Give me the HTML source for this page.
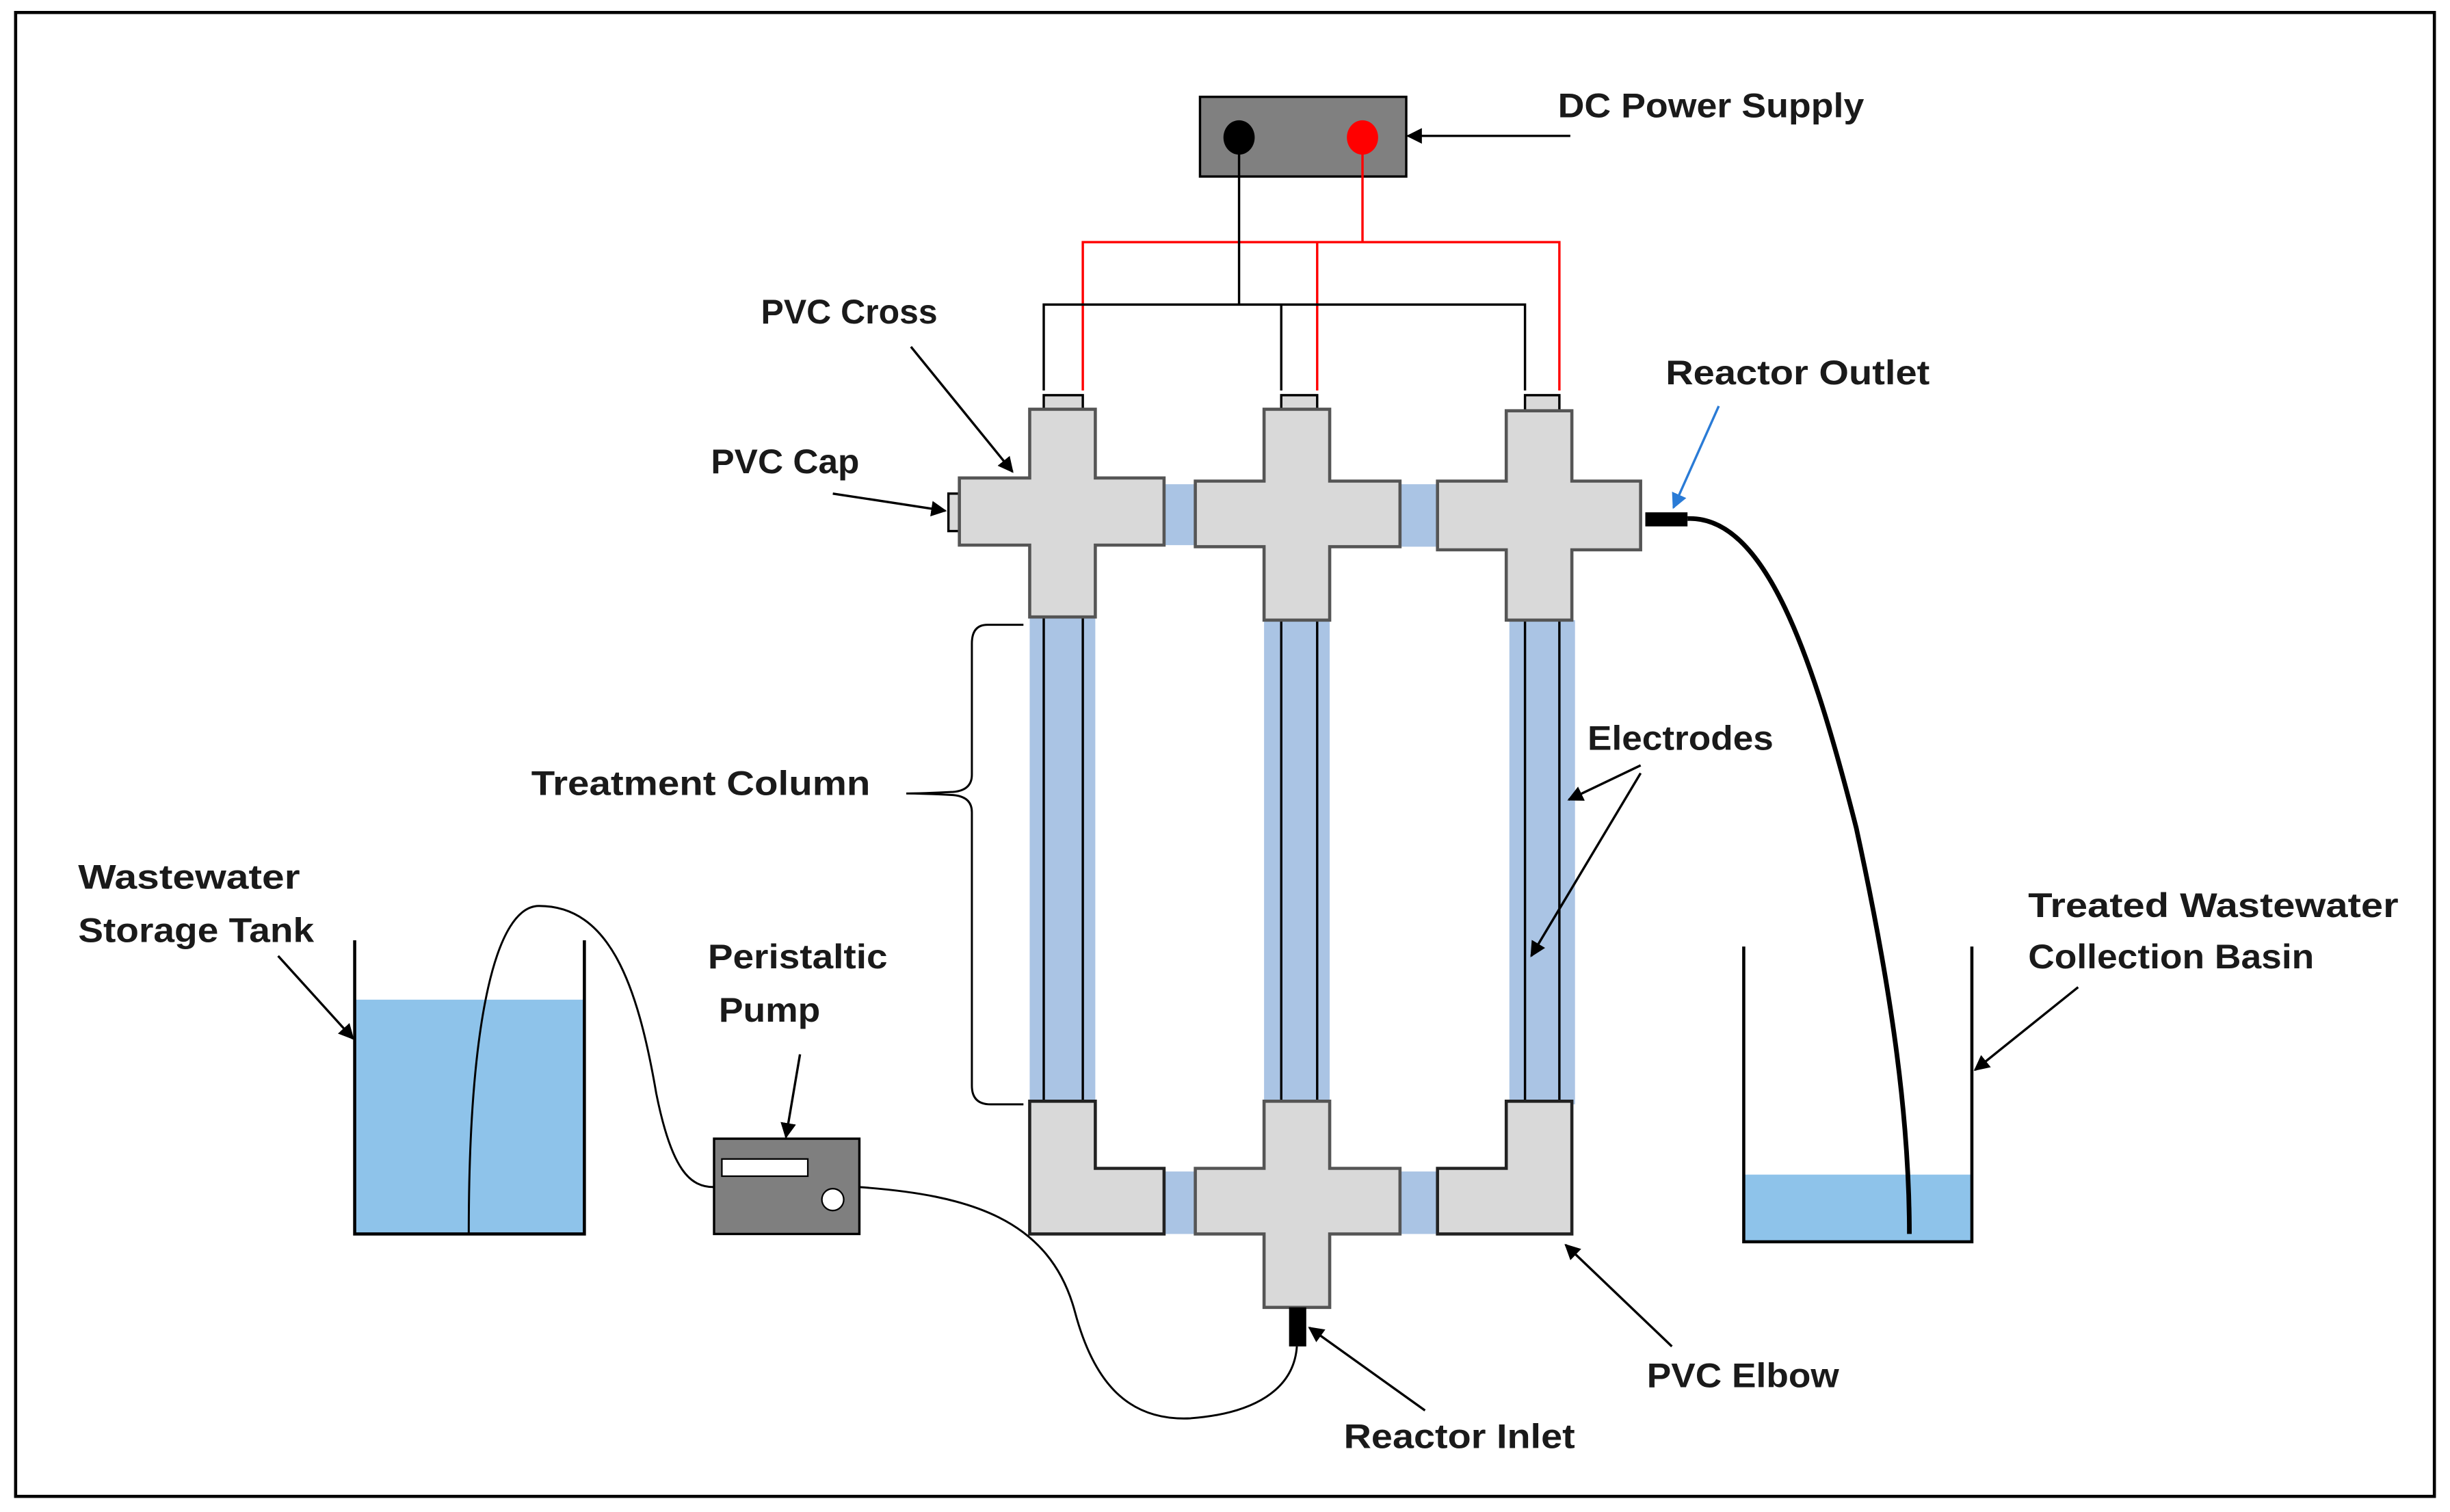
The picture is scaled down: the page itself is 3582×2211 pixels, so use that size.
<!DOCTYPE html>
<html><head><meta charset="utf-8"><style>
html,body{margin:0;padding:0;background:#fff;}
svg{display:block;}
text{font-family:"Liberation Sans",Arial,sans-serif;font-weight:bold;font-size:22px;fill:#1a1a1a;}
</style></head><body>
<svg width="3582" height="2211" viewBox="0 0 1568 968" preserveAspectRatio="none" xmlns="http://www.w3.org/2000/svg">
<defs>
<marker id="ah" markerWidth="10" markerHeight="10" refX="9" refY="5" orient="auto" markerUnits="userSpaceOnUse"><path d="M0,0 L10,5 L0,10 Z" fill="#000"/></marker>
<marker id="ahb" markerWidth="10" markerHeight="10" refX="9" refY="5" orient="auto" markerUnits="userSpaceOnUse"><path d="M0,0 L10,5 L0,10 Z" fill="#2a7bd6"/></marker>
</defs>
<rect x="0" y="0" width="1568" height="968" fill="#fff"/>
<rect x="10" y="8" width="1548" height="950" fill="none" stroke="#000" stroke-width="2"/>

<rect x="768" y="62" width="132" height="51" fill="#808080" stroke="#000" stroke-width="1.5"/>
<ellipse cx="793" cy="88" rx="10" ry="11" fill="#000"/>
<ellipse cx="872" cy="88" rx="10" ry="11" fill="#f00"/>
<line x1="1005" y1="87" x2="901" y2="87" stroke="#000" stroke-width="1.5" marker-end="url(#ah)"/>

<g fill="none" stroke-width="1.5">
<path d="M872,88 V155 M693,250 V155 H998 V250 M843,155 V250" stroke="#f00"/>
<path d="M793,88 V195 M668,250 V195 H976 V250 M820,195 V250" stroke="#000"/>
</g>

<g fill="#aac4e4">
<rect x="659" y="395" width="42" height="312"/>
<rect x="809" y="397" width="42" height="310"/>
<rect x="966" y="397" width="42" height="310"/>
<rect x="745" y="310" width="20" height="39"/>
<rect x="896" y="310" width="24" height="40"/>
<rect x="745" y="750" width="20" height="40"/>
<rect x="896" y="750" width="24" height="40"/>
</g>
<g stroke="#000" stroke-width="1.5">
<line x1="668" y1="395" x2="668" y2="705"/><line x1="693" y1="395" x2="693" y2="705"/>
<line x1="820" y1="397" x2="820" y2="705"/><line x1="843" y1="397" x2="843" y2="705"/>
<line x1="976" y1="397" x2="976" y2="705"/><line x1="998" y1="397" x2="998" y2="705"/>
</g>

<g fill="#d9d9d9" stroke="#000" stroke-width="1.5">
<rect x="668" y="253" width="25" height="10"/>
<rect x="820" y="253" width="23" height="10"/>
<rect x="976" y="253" width="22" height="10"/>
<rect x="607" y="316" width="8" height="24"/>
</g>

<g fill="#d9d9d9" stroke="#555" stroke-width="2">
<path d="M659,262 H701 V306 H745 V349 H701 V395 H659 V349 H614 V306 H659 Z"/>
<path d="M809,262 H851 V308 H896 V350 H851 V397 H809 V350 H765 V308 H809 Z"/>
<path d="M964,263 H1006 V308 H1050 V352 H1006 V397 H964 V352 H920 V308 H964 Z"/>
<path d="M809,705 H851 V748 H896 V790 H851 V837 H809 V790 H765 V748 H809 Z"/>
<path d="M659,705 H701 V748 H745 V790 H659 Z" stroke="#222"/>
<path d="M964,705 H1006 V790 H920 V748 H964 Z" stroke="#222"/>
</g>
<rect x="1053" y="328" width="27" height="9" fill="#000"/>
<rect x="825" y="837" width="11" height="25" fill="#000"/>

<rect x="227" y="640" width="147" height="150" fill="#8ec3ea"/>
<path d="M227,602 V790 H374 V602" fill="none" stroke="#000" stroke-width="2"/>
<rect x="1116" y="752" width="146" height="43" fill="#8ec3ea"/>
<path d="M1116,606 V795 H1262 V606" fill="none" stroke="#000" stroke-width="2"/>

<rect x="457" y="729" width="93" height="61" fill="#7f7f7f" stroke="#000" stroke-width="1.5"/>
<rect x="462" y="742" width="55" height="11" fill="#fff" stroke="#000" stroke-width="1"/>
<circle cx="533" cy="768" r="7" fill="#fff" stroke="#000" stroke-width="1"/>

<g fill="none" stroke="#000">
<path d="M300,790 C300,650 318,580 345,580 C390,580 408,630 420,700 C430,750 442,760 457,760" stroke-width="1.3"/>
<path d="M550,760 C620,765 672,780 688,840 C700,885 722,910 762,908 C802,905 828,890 830,862" stroke-width="1.3"/>
<path d="M1080,332 C1130,330 1160,420 1188,530 C1212,640 1222,720 1222,790" stroke-width="3"/>
</g>

<path d="M655,400 H632 Q622,400 622,412 V496 Q622,506 610,507 Q590,508 580,508 Q590,508 610,509 Q622,510 622,520 V695 Q622,707 634,707 H655" fill="none" stroke="#000" stroke-width="1.3"/>

<g stroke="#000" stroke-width="1.5" marker-end="url(#ah)">
<line x1="583" y1="222" x2="648" y2="302"/>
<line x1="533" y1="316" x2="605" y2="327"/>
<line x1="1050" y1="490" x2="1004" y2="512"/>
<line x1="1050" y1="495" x2="980" y2="612"/>
<line x1="178" y1="612" x2="226" y2="665"/>
<line x1="512" y1="675" x2="503" y2="728"/>
<line x1="1330" y1="632" x2="1264" y2="685"/>
<line x1="1070" y1="862" x2="1002" y2="797"/>
<line x1="912" y1="903" x2="838" y2="850"/>
</g>
<line x1="1100" y1="260" x2="1071" y2="325" stroke="#2a7bd6" stroke-width="1.5" marker-end="url(#ahb)"/>

<g lengthAdjust="spacingAndGlyphs">
<text x="997" y="75" textLength="196" lengthAdjust="spacingAndGlyphs">DC Power Supply</text>
<text x="487" y="207" textLength="113" lengthAdjust="spacingAndGlyphs">PVC Cross</text>
<text x="455" y="303" textLength="95" lengthAdjust="spacingAndGlyphs">PVC Cap</text>
<text x="1066" y="246" textLength="169" lengthAdjust="spacingAndGlyphs">Reactor Outlet</text>
<text x="340" y="509" textLength="217" lengthAdjust="spacingAndGlyphs">Treatment Column</text>
<text x="1016" y="480" textLength="119" lengthAdjust="spacingAndGlyphs">Electrodes</text>
<text x="50" y="569" textLength="142" lengthAdjust="spacingAndGlyphs">Wastewater</text>
<text x="50" y="603" textLength="151" lengthAdjust="spacingAndGlyphs">Storage Tank</text>
<text x="453" y="620" textLength="115" lengthAdjust="spacingAndGlyphs">Peristaltic</text>
<text x="460" y="654" textLength="65" lengthAdjust="spacingAndGlyphs">Pump</text>
<text x="1298" y="587" textLength="237" lengthAdjust="spacingAndGlyphs">Treated Wastewater</text>
<text x="1298" y="620" textLength="183" lengthAdjust="spacingAndGlyphs">Collection Basin</text>
<text x="1054" y="888" textLength="123" lengthAdjust="spacingAndGlyphs">PVC Elbow</text>
<text x="860" y="927" textLength="148" lengthAdjust="spacingAndGlyphs">Reactor Inlet</text>
</g>
</svg>
</body></html>
